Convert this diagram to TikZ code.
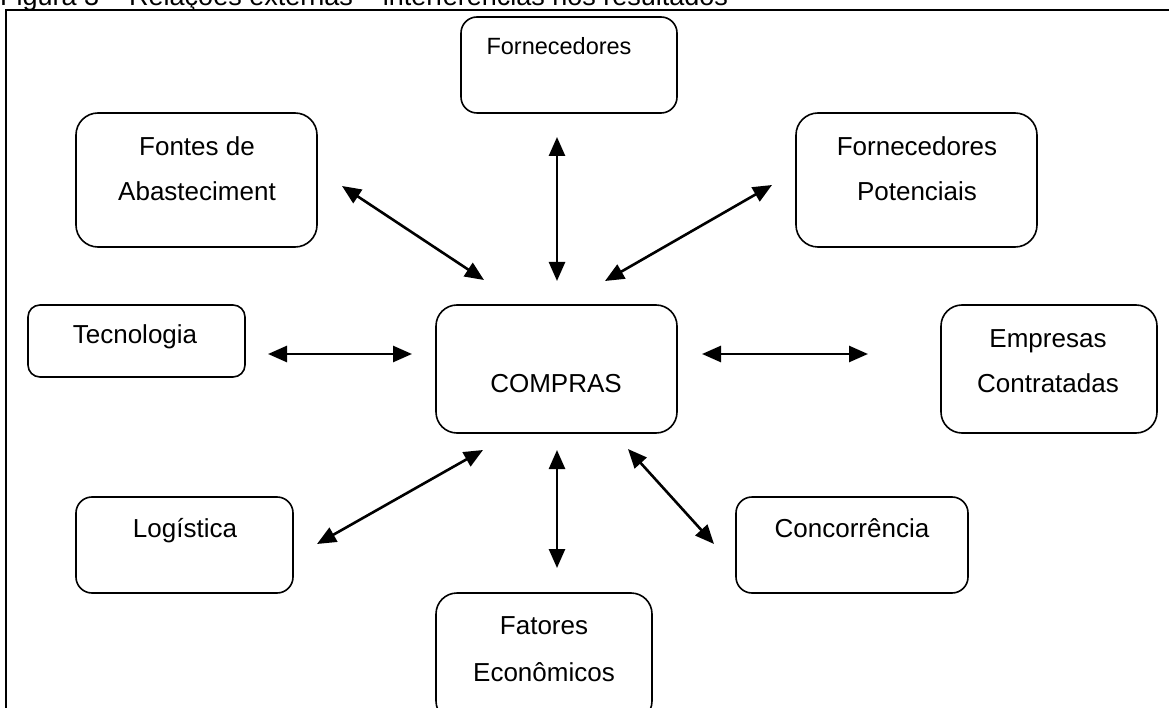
\documentclass[tikz,border=0pt]{standalone}
\usepackage{fontspec}
\setmainfont{Liberation Sans}
\usetikzlibrary{arrows.meta}
\begin{document}
\begin{tikzpicture}[x=1pt,y=-1pt,
  box/.style={draw,line width=1.6pt,inner sep=0pt},
  lbl/.style={anchor=base,inner sep=0pt,font=\fontsize{26}{30}\selectfont},
  lblsmall/.style={anchor=base,inner sep=0pt,font=\fontsize{23.5}{28}\selectfont},
  link/.style={line width=2.6pt,{Triangle[length=19pt,width=16pt]}-{Triangle[length=19pt,width=16pt]}}]
\useasboundingbox (0,0) rectangle (1169,708);
\clip (0,0) rectangle (1169,708);
% title (cut off at top, as in the reference)
\node[anchor=base west,inner sep=0pt,font=\fontsize{27}{30}\selectfont] (title) at (0,6) {Figura 3 – Relações externas – interferências nos resultados};
% frame
\draw[line width=1.8pt] (6,720) -- (6,10) -- (1180,10);
% boxes
\draw[box,rounded corners=16pt] (461,17) rectangle (677,113);
\node[lblsmall] (fornT) at (559,55) {Fornecedores};
\draw[box,rounded corners=22pt] (76,113) rectangle (317,247);
\node[lbl] (fontes1) at (197,156) {Fontes de};
\node[lbl] (fontes2) at (197,201) {Abasteciment};
\draw[box,rounded corners=22pt] (796,113) rectangle (1037,247);
\node[lbl] (pot1) at (917,156) {Fornecedores};
\node[lbl] (pot2) at (917,201) {Potenciais};
\draw[box,rounded corners=12pt] (28,305) rectangle (245,377);
\node[lbl] (tec) at (135,344) {Tecnologia};
\draw[box,rounded corners=21pt] (436,305) rectangle (677,433);
\node[lbl] (compras) at (556,392) {COMPRAS};
\draw[box,rounded corners=21pt] (941,305) rectangle (1157,433);
\node[lbl] (emp1) at (1048,347) {Empresas};
\node[lbl] (emp2) at (1048,392) {Contratadas};
\draw[box,rounded corners=16pt] (76,497) rectangle (293,593);
\node[lbl] (log) at (185,537) {Logística};
\draw[box,rounded corners=16pt] (736,497) rectangle (968,593);
\node[lbl] (conc) at (852,537) {Concorrência};
\draw[box,rounded corners=21pt] (436,593) rectangle (652,722);
\node[lbl] (fat1) at (544,634) {Fatores};
\node[lbl] (fat2) at (544,681) {Econômicos};
% arrow end points
\coordinate (a1) at (342,186); \coordinate (b1) at (484,280);
\coordinate (a2) at (557,137); \coordinate (b2) at (557,281);
\coordinate (a3) at (772,185); \coordinate (b3) at (605,281);
\coordinate (a4) at (268,354); \coordinate (b4) at (412,354);
\coordinate (a5) at (702,354); \coordinate (b5) at (868,354);
\coordinate (a6) at (317,544); \coordinate (b6) at (483,450);
\coordinate (a7) at (557,450); \coordinate (b7) at (557,568);
\coordinate (a8) at (628,449); \coordinate (b8) at (714,544);
\foreach \i in {1,...,8} {\draw[link] (a\i) -- (b\i);}
\end{tikzpicture}
\end{document}
